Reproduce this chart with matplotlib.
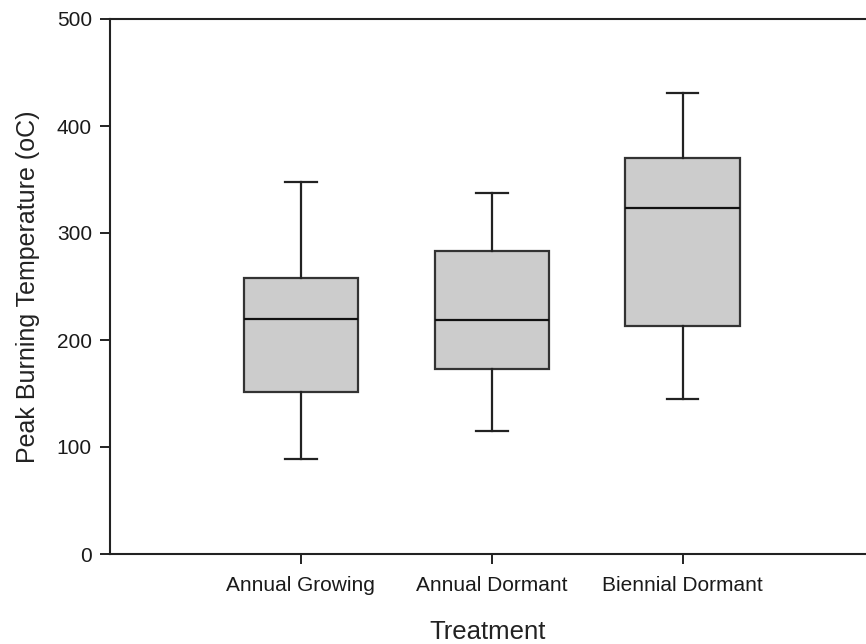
import matplotlib
matplotlib.use("Agg")
import matplotlib.pyplot as plt

plt.rcParams['font.family'] = ['Liberation Sans', 'DejaVu Sans']

# Treatment groups and summary statistics (peak burning temperature, °C)
treatments = ["Annual Growing", "Annual Dormant", "Biennial Dormant"]
whisker_low = [89, 115, 145]
q1 = [151, 173, 213]
median = [220, 219, 323]
q3 = [258, 283, 370]
whisker_high = [348, 337, 431]

y_ticks = [0, 100, 200, 300, 400, 500]

fig = plt.figure(figsize=(8.66, 6.44), dpi=100)
fig.patch.set_facecolor("white")
ax = fig.add_axes([110 / 866, 90 / 644, 756 / 866, 535 / 644])

stats = []
for name, lo, a, m, b, hi in zip(treatments, whisker_low, q1, median, q3, whisker_high):
    stats.append(dict(label=name, whislo=lo, q1=a, med=m, q3=b, whishi=hi, fliers=[]))

edge = "#222222"
ax.bxp(
    stats,
    positions=[1, 2, 3],
    widths=0.6,
    capwidths=0.165,
    patch_artist=True,
    showfliers=False,
    boxprops=dict(facecolor="#cccccc", edgecolor="#333333", linewidth=1.6),
    medianprops=dict(color="#111111", linewidth=1.6),
    whiskerprops=dict(color=edge, linewidth=1.6),
    capprops=dict(color=edge, linewidth=1.6),
)

ax.set_xlim(0, 3.96)
ax.set_ylim(0, 500)
ax.set_yticks(y_ticks)
ax.set_xticks([1, 2, 3])
ax.set_xticklabels(treatments)

for side in ("left", "bottom", "top"):
    ax.spines[side].set_color("#222222")
    ax.spines[side].set_linewidth(1.5)
ax.spines["right"].set_visible(False)

ax.tick_params(axis="both", direction="out", length=7, width=1.4, color="#222222",
               labelcolor="#1a1a1a", labelsize=15)
ax.tick_params(axis="y", pad=6)
ax.tick_params(axis="x", pad=9)

ax.set_xlabel("Treatment", fontsize=18.5, color="#222222", labelpad=18)
ax.set_ylabel("Peak Burning Temperature (oC)", fontsize=18, color="#222222", labelpad=12)

fig.savefig("out.png", dpi=100)
